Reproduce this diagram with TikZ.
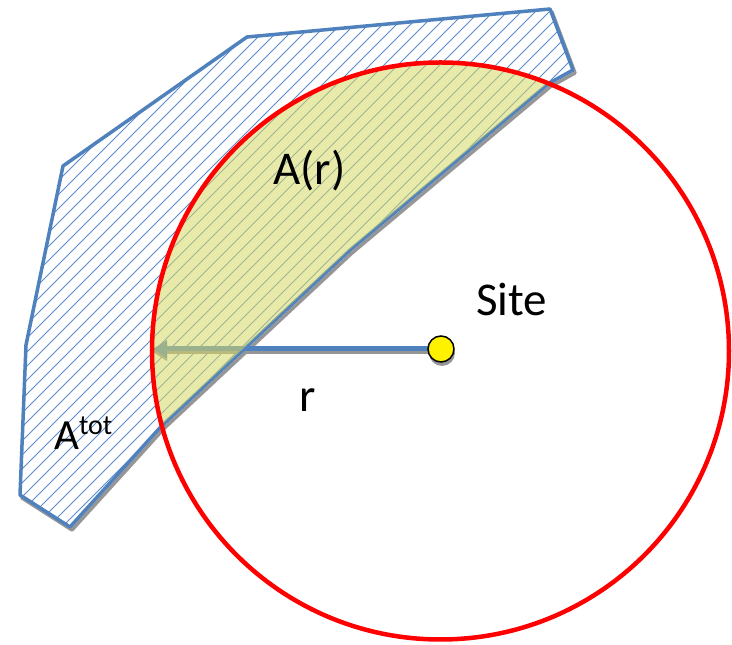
\documentclass[tikz,border=0pt]{standalone}
\usepackage{fontspec}
\setmainfont{Carlito}
\usetikzlibrary{arrows.meta}
\definecolor{polyblue}{RGB}{79,129,189}
\definecolor{hatchblue}{RGB}{91,139,205}
\definecolor{shadowgray}{RGB}{150,150,150}
\definecolor{yel}{RGB}{214,217,100}
\newcommand\polypts{(247,608) -- (550,636) -- (573,575) -- (548.6,561.5) -- (350,395) -- (161.8,219.3) -- (70,118) -- (20,150) -- (26,300) -- (63,479) -- cycle}
\tikzset{
  lbl/.style={font=\fontsize{47}{56}\selectfont, inner sep=0pt, anchor=base west, text=black},
  polyline/.style={draw=polyblue, line width=3.5pt, line join=round},
  shadowline/.style={draw=shadowgray, line width=3.5pt, line join=round},
  hatchline/.style={draw=hatchblue, line width=0.8pt},
  radiusarrow/.style={draw=polyblue, line width=5pt, -{Triangle[length=14pt,width=17pt]}},
  radiusshadow/.style={draw=shadowgray, line width=5pt, -{Triangle[length=14pt,width=17pt]}},
  areafill/.style={fill=yel, fill opacity=0.55, draw=polyblue, line width=1.5pt, draw opacity=0.9},
  circleline/.style={draw=red, line width=4.5pt},
  sitedot/.style={circle, fill=yellow, draw=black, line width=1.5pt, minimum size=26pt, inner sep=0pt}
}
\begin{document}
\begin{tikzpicture}[x=1pt,y=1pt]
\useasboundingbox (0,0) rectangle (732,645);
\coordinate (C) at (440.5,294);
\coordinate (sitec) at (441,296);
\coordinate (rend) at (153,296);
% polygon shadow
\draw[shadowline, shift={(2,-3)}] \polypts;
% polygon fill + hatching
\fill[white] \polypts;
\begin{scope}
  \clip \polypts;
  \foreach \i in {-658,-644,...,740}
    \draw[hatchline] (\i,0) -- ++(660,660);
\end{scope}
% radius arrow
\draw[radiusshadow] ([yshift=-3pt]sitec) -- ([yshift=-3pt]rend);
\draw[radiusarrow] (sitec) -- (rend);
% polygon outline
\draw[polyline] \polypts;
% A(r) region
\path[areafill] (548.6,561.5) arc[start angle=68, end angle=195, radius=288.5] -- (350,395) -- cycle;
% circle
\draw[circleline] (C) circle (288.5);
% site
\fill[shadowgray] (442,292) circle (13);
\node[sitedot] (site) at (sitec) {};
% labels
\node[lbl] (ar) at (273,460) {A(r)};
\node[lbl] (sitelbl) at (476,329) {Site};
\node[lbl] (rlbl) at (299,233) {r};
\node[lbl, font=\fontsize{43}{52}\selectfont] (atot) at (54,195) {A\raisebox{15pt}{\fontsize{28}{34}\selectfont tot}};
\end{tikzpicture}
\end{document}
